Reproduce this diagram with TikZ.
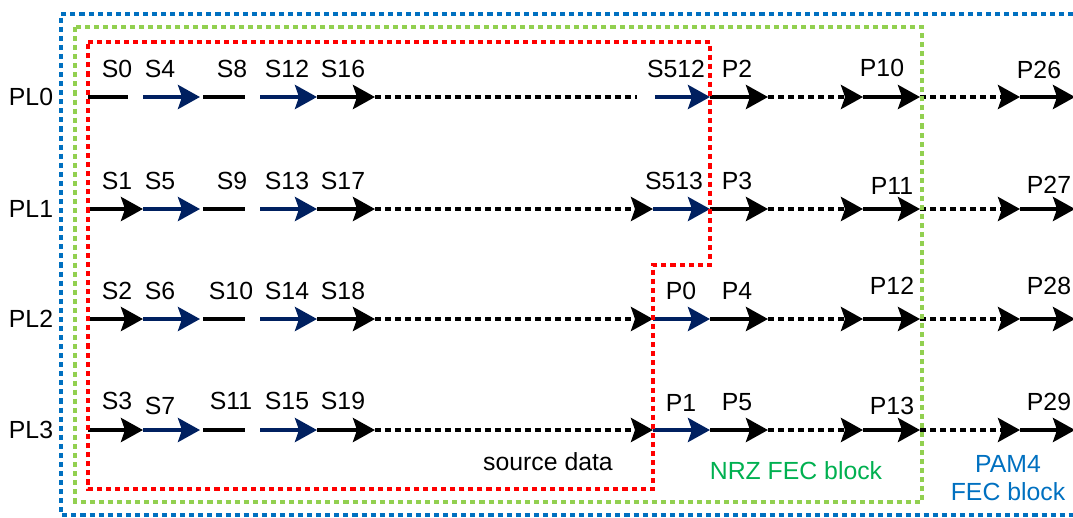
\documentclass[tikz,border=0pt]{standalone}
\usepackage{fontspec}
\setmainfont{Liberation Sans}
\usetikzlibrary{arrows.meta}
\definecolor{navy}{HTML}{002060}
\definecolor{rojo}{HTML}{FF0000}
\definecolor{verde}{HTML}{92D050}
\definecolor{verdetxt}{HTML}{00B050}
\definecolor{azul}{HTML}{0070C0}
\tikzset{
  tramo/.style={line width=2.9pt, black},
  punta/.style={-{Stealth[length=16.5pt,width=18pt,inset=3pt]}},
  flecha/.style={tramo, punta},
  flechaazul/.style={tramo, punta, navy},
  punteada/.style={tramo, dash pattern=on 4.5pt off 3pt},
  punteadaf/.style={punteada, punta},
  borde/.style={line width=2.4pt, dash pattern=on 3.8pt off 3pt},
  etiq/.style={font=\fontsize{18.6}{21}\selectfont, inner sep=0pt}
}

\begin{document}
\begin{tikzpicture}[x=0.75pt,y=-0.75pt]
\useasboundingbox (0,0) rectangle (1073,517);

% Puntos de cada carril
\foreach \f/\y in {0/97,1/209,2/319,3/430} {
  \foreach \n/\x in {a/88,b/143,c/200,d/203,e/245,f/260,g/317,h/375,
                     i/653,j/710,k/768,l/863,m/920,n/1020,o/1075}
    \coordinate (\n\f) at (\x,\y);
  \node[etiq] (pl\f) at (31,\y) {PL\f};
}
\coordinate (a0e) at (128,97);
\coordinate (h0e) at (637,97);
\coordinate (i0s) at (655,97);

% Carril 0
\draw[tramo] (a0) -- (a0e);
\draw[flechaazul] (b0) -- (c0);
\draw[tramo] (d0) -- (e0);
\draw[flechaazul] (f0) -- (g0);
\draw[flecha] (g0) -- (h0);
\draw[punteada] (h0) -- (h0e);
\draw[flechaazul] (i0s) -- (j0);

% Carriles 1 a 3
\foreach \f in {1,2,3} {
  \draw[flecha] (a\f) -- (b\f);
  \draw[flechaazul] (b\f) -- (c\f);
  \draw[tramo] (d\f) -- (e\f);
  \draw[flechaazul] (f\f) -- (g\f);
  \draw[flecha] (g\f) -- (h\f);
  \draw[punteadaf] (h\f) -- (i\f);
  \draw[flechaazul] (i\f) -- (j\f);
}

% Paridad
\foreach \f in {0,...,3} {
  \draw[flecha] (j\f) -- (k\f);
  \draw[punteadaf] (k\f) -- (l\f);
  \draw[flecha] (l\f) -- (m\f);
  \draw[punteadaf] (m\f) -- (n\f);
  \draw[flecha] (n\f) -- (o\f);
}

% Etiquetas
\foreach \t/\x/\y in {S0/117/69,S4/160/69,S8/232/69,S12/287/69,S16/343/69,
    S512/676/69,P2/737/69,P10/882/68,P26/1039/70,
    S1/117/181,S5/160/181,S9/232/181,S13/287/181,S17/343/181,
    S513/674/181,P3/737/181,P11/892/186,P27/1049/185,
    S2/117/291,S6/160/291,S10/231/291,S14/287/291,S18/343/291,
    P0/681/291,P4/737/291,P12/892/286,P28/1049/286,
    S3/117/401,S7/160/406,S11/231/401,S15/287/401,S19/343/401,
    P1/681/403,P5/737/402,P13/892/406,P29/1049/402}
  \node[etiq] (\t) at (\x,\y) {\t};

% Bloques
\draw[borde, rojo] (88,42) -- (710,42) -- (710,265) -- (653,265)
  -- (653,489) -- (88,489) -- cycle;
\draw[borde, verde] (75,27) rectangle (922,502);
\draw[borde, azul] (1100,14) -- (61,14) -- (61,515) -- (1100,515);

\node[etiq] (fuente) at (548,462) {source data};
\node[etiq, text=verdetxt] (nrz) at (796,471) {NRZ FEC block};
\node[etiq, text=azul, align=center] (pam) at (1008,478) {PAM4\\FEC block};

\end{tikzpicture}
\end{document}
